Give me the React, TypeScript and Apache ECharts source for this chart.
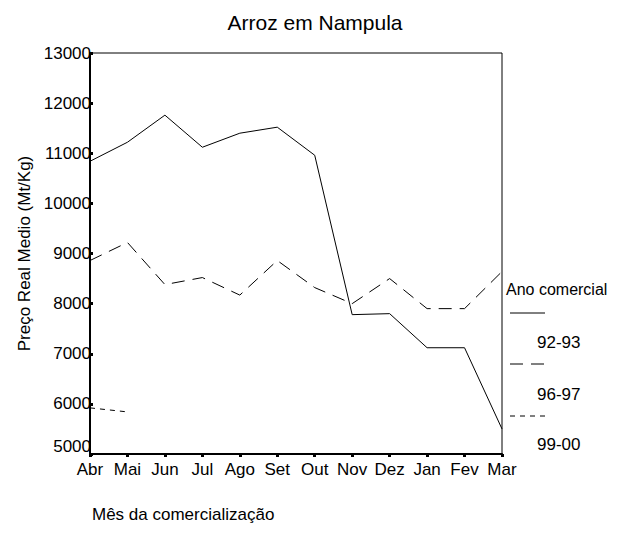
import React, { useEffect, useRef } from "react";
import * as echarts from "echarts";

const months = ["Abr", "Mai", "Jun", "Jul", "Ago", "Set", "Out", "Nov", "Dez", "Jan", "Fev", "Mar"];
const s9293 = [10840, 11220, 11760, 11120, 11400, 11520, 10960, 7780, 7800, 7120, 7120, 5500];
const s9697 = [8860, 9220, 8380, 8520, 8170, 8860, 8320, 8000, 8500, 7900, 7900, 8640];
const s9900: (number | null)[] = [5920, 5840, null, null, null, null, null, null, null, null, null, null];
const seriesNames = ["92-93", "96-97", "99-00"];
const yTicks = { min: 5000, max: 13000, interval: 1000 };

const FONT = "Liberation Sans, Arial, sans-serif";

export default function App() {
  const ref = useRef<HTMLDivElement>(null);
  useEffect(() => {
    if (!ref.current) return;
    const chart = echarts.init(ref.current, null, { renderer: "svg" });
    const lineStyles: any[] = [
      { type: "solid" },
      { type: [13, 8] },
      { type: [5, 5] },
    ];
    const legendX = 510;
    const legendLineY = [313, 364, 416];
    const legendTextY = [343, 395, 445];
    const graphic: any[] = [
      {
        type: "text",
        left: 506,
        top: 281,
        style: { text: "Ano comercial", fill: "#000", font: `16px ${FONT}` },
      },
      {
        type: "text",
        left: 92,
        top: 506,
        style: { text: "Mês da comercialização", fill: "#000", font: `17px ${FONT}` },
      },
    ];
    seriesNames.forEach((n, i) => {
      graphic.push({
        type: "line",
        shape: { x1: legendX, y1: legendLineY[i], x2: legendX + 35, y2: legendLineY[i] },
        style: { stroke: "#000", lineWidth: 1, lineDash: i === 0 ? null : lineStyles[i].type },
      });
      graphic.push({
        type: "text",
        left: 537,
        top: legendTextY[i] - 9,
        style: { text: n, fill: "#000", font: `17px ${FONT}` },
      });
    });
    const datas = [s9293, s9697, s9900];
    chart.setOption({
      animation: false,
      backgroundColor: "#fff",
      title: {
        text: "Arroz em Nampula",
        left: 310,
        textAlign: "center",
        top: 7,
        textStyle: { fontFamily: FONT, fontSize: 21, fontWeight: "normal", color: "#000" },
      },
      grid: {
        left: 90,
        right: 121,
        top: 53,
        bottom: 83,
        show: true,
        borderColor: "#000",
        borderWidth: 1,
        backgroundColor: "transparent",
      },
      xAxis: {
        type: "category",
        data: months,
        boundaryGap: false,
        axisLine: { show: true, lineStyle: { color: "#000", width: 2 } },
        axisTick: { show: true, length: 3, lineStyle: { color: "#000", width: 3 } },
        axisLabel: { color: "#000", fontFamily: FONT, fontSize: 17, margin: 7, interval: 0 },
        splitLine: { show: false },
      },
      yAxis: {
        type: "value",
        min: yTicks.min,
        max: yTicks.max,
        interval: yTicks.interval,
        name: "Preço Real Medio (Mt/Kg)",
        nameLocation: "middle",
        nameGap: 53,
        nameRotate: 90,
        nameTextStyle: { color: "#000", fontFamily: FONT, fontSize: 17 },
        axisLine: { show: true, lineStyle: { color: "#000", width: 2 } },
        axisTick: { show: true, inside: true, length: 3, lineStyle: { color: "#000", width: 3 } },
        axisLabel: {
          color: "#000",
          fontFamily: FONT,
          fontSize: 17,
          margin: -1,
          formatter: (v: number) => (v === yTicks.min ? `{b|${v}}` : String(v)),
          rich: { b: { fontFamily: FONT, fontSize: 17, color: "#000", padding: [0, 0, 16, 0] } },
        },
        splitLine: { show: false },
      },
      graphic,
      series: seriesNames.map((n, i) => ({
        name: n,
        type: "line",
        data: datas[i],
        showSymbol: false,
        symbol: "none",
        connectNulls: false,
        lineStyle: { color: "#000", width: 1, type: lineStyles[i].type },
      })),
    });
    return () => chart.dispose();
  }, []);
  return <div ref={ref} style={{ width: 623, height: 537, margin: -8 }} />;
}
